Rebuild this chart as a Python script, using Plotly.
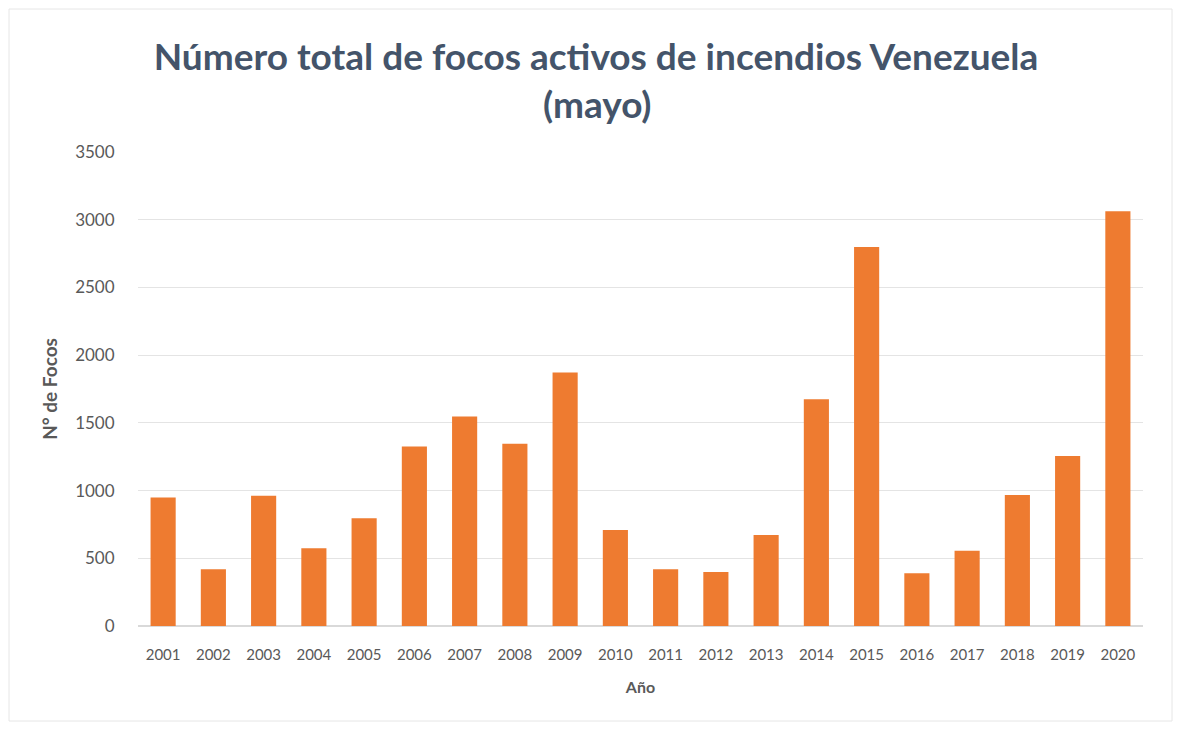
import plotly.graph_objects as go

years = ["2001", "2002", "2003", "2004", "2005", "2006", "2007", "2008", "2009", "2010",
         "2011", "2012", "2013", "2014", "2015", "2016", "2017", "2018", "2019", "2020"]
focos = [948, 419, 961, 574, 796, 1325, 1547, 1345, 1872, 709,
         419, 399, 672, 1675, 2798, 389, 556, 968, 1256, 3062]
y_ticks = [0, 500, 1000, 1500, 2000, 2500, 3000, 3500]

title_line1 = "Número total de focos activos de incendios Venezuela"
title_line2 = "(mayo)"

W, H = 1165, 714
L, T, R, B = 130, 144, 30, 96
plot_w = W - L - R
plot_h = H - T - B

fig = go.Figure()
fig.add_trace(go.Bar(
    x=years, y=focos,
    marker=dict(color="#EE7B30", line=dict(width=0)),
    hoverinfo="x+y",
))

title_font = dict(family="Lato", size=37, color="#44546A", weight="bold")

fig.update_layout(
    width=W, height=H,
    margin=dict(l=L, r=R, t=T, b=B),
    paper_bgcolor="white", plot_bgcolor="white",
    bargap=0.5,
    showlegend=False,
    title=dict(text=title_line1, x=588 / W, xanchor="center", xref="container",
               yref="container", y=1 - 49 / H, yanchor="middle",
               font=title_font),
    annotations=[dict(text=title_line2, xref="paper", yref="paper",
                      x=(589 - L) / plot_w, y=1 + (T - 96) / plot_h, xanchor="center",
                      yanchor="middle", showarrow=False, font=title_font)],
    xaxis=dict(
        type="category", showgrid=False, zeroline=False, showline=False,
        ticks="outside", ticklen=15, tickcolor="rgba(0,0,0,0)",
        tickfont=dict(family="Lato", size=15, color="#595959"),
        title=dict(text="Año", standoff=19,
                   font=dict(family="Lato", size=16, color="#595959", weight="bold")),
    ),
    yaxis=dict(
        range=[0, 3500], tickvals=y_ticks, showgrid=True, gridcolor="#E4E4E4",
        gridwidth=1, zeroline=True, zerolinecolor="#D9D9D9", showline=False,
        ticks="outside", ticklen=19, tickcolor="rgba(0,0,0,0)",
        tickfont=dict(family="Lato", size=17, color="#595959"),
        title=dict(text="N° de Focos", standoff=12,
                   font=dict(family="Lato", size=19, color="#595959", weight="bold")),
    ),
    shapes=[dict(type="rect", xref="paper", yref="paper",
                 x0=-(L - 1) / plot_w, x1=1 + (R - 1) / plot_w,
                 y0=-(B - 1) / plot_h, y1=1 + (T - 1) / plot_h,
                 line=dict(color="#E6E6E6", width=1), fillcolor="rgba(0,0,0,0)",
                 layer="below")],
)

fig.write_html("out.html")
